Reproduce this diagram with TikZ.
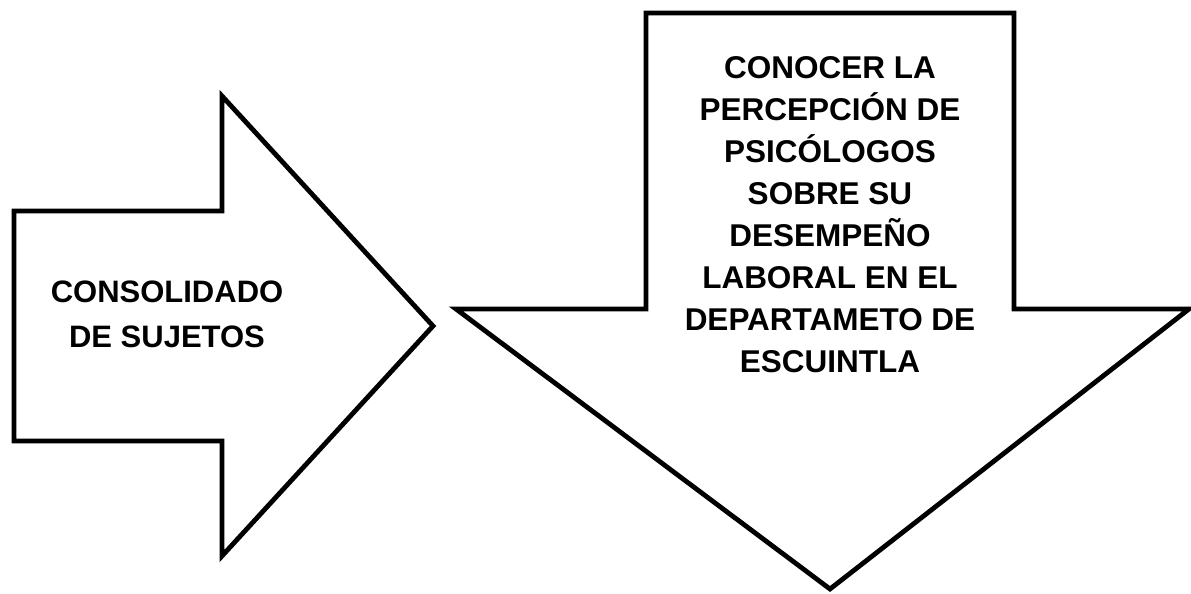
\documentclass[tikz,border=0pt]{standalone}
\usepackage{fontspec}
\setmainfont{Liberation Sans}
\begin{document}
\begin{tikzpicture}[x=1pt,y=-1pt,
  arrowshape/.style={draw=black,line width=4.8pt,line join=miter,fill=white},
  label/.style={align=center,font=\bfseries\fontsize{31.5}{42}\selectfont,inner sep=0pt}]
\useasboundingbox (0,0) rectangle (1191,594);
\draw[arrowshape] (14,211) -- (222,211) -- (222,96) -- (433,326) -- (222,556) -- (222,441) -- (14,441) -- cycle;
\draw[arrowshape] (646,13) -- (1014,13) -- (1014,309) -- (1189,309) -- (830,589) -- (456,309) -- (646,309) -- cycle;
\node[label,font=\bfseries\fontsize{31}{45}\selectfont] (left) at (167,314) {CONSOLIDADO\\DE SUJETOS};
\node[label] (right) at (830,215) {CONOCER LA\\PERCEPCIÓN DE\\PSICÓLOGOS\\SOBRE SU\\DESEMPEÑO\\LABORAL EN EL\\DEPARTAMETO DE\\ESCUINTLA};
\end{tikzpicture}
\end{document}
